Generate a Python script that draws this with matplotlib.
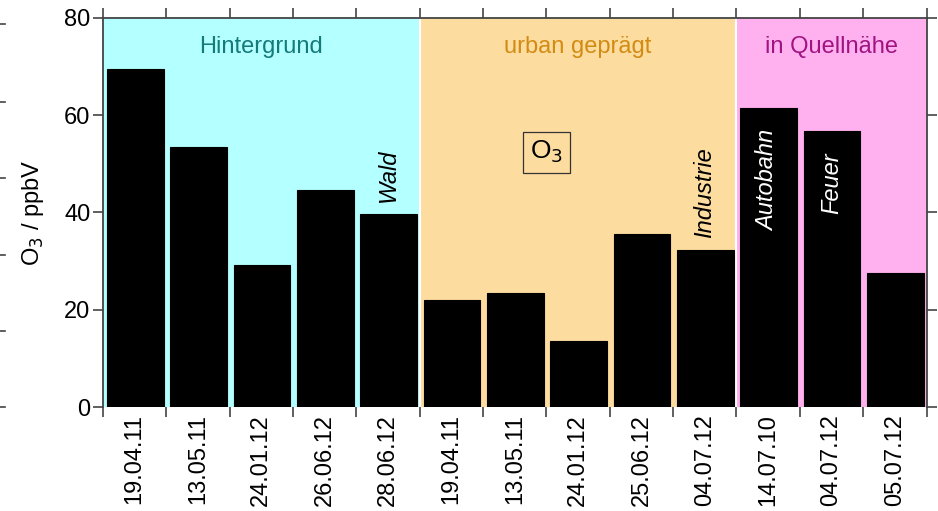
import matplotlib
matplotlib.use("Agg")
import matplotlib.pyplot as plt
from matplotlib.lines import Line2D

plt.rcParams['font.family'] = ['Liberation Sans', 'DejaVu Sans']

# Sampling dates and measured ozone mixing ratios
dates = ["19.04.11", "13.05.11", "24.01.12", "26.06.12", "28.06.12",
         "19.04.11", "13.05.11", "24.01.12", "25.06.12", "04.07.12",
         "14.07.10", "04.07.12", "05.07.12"]
o3_ppbv = [69.5, 53.5, 29.3, 44.6, 39.7,
           22.0, 23.4, 13.6, 35.6, 32.3,
           61.4, 56.8, 27.5]

# Site groups: (label, first index, last index, fill, text colour)
groups = [
    ("Hintergrund", 0, 4, "#b4ffff", "#157a7a"),
    ("urban geprägt", 5, 9, "#fddc9f", "#d28c14"),
    ("in Quellnähe", 10, 12, "#ffb0ee", "#a01482"),
]

# Site notes written next to / inside individual bars
notes = [(4, "Wald", "black", "above"),
         (9, "Industrie", "black", "above"),
         (10, "Autobahn", "white", "inside"),
         (11, "Feuer", "white", "inside")]

W, H = 938, 511
fig = plt.figure(figsize=(W / 100, H / 100), dpi=100)
ax = fig.add_axes([103 / W, 1 - 407 / H, (926.5 - 103) / W, (407 - 18) / H])

n = len(dates)
x = list(range(n))
ax.set_xlim(-0.5, n - 0.5)
ax.set_ylim(0, 80)

# coloured group backgrounds with thin white separators
for label, i0, i1, fill, tcol in groups:
    ax.axvspan(i0 - 0.5, i1 + 0.5, color=fill, zorder=0, lw=0)
    ax.text((i0 + i1) / 2, 74.0, label, ha="center", va="center",
            fontsize=17, color=tcol, zorder=3)
for _, i0, _, _, _ in groups[1:]:
    ax.axvline(i0 - 0.5, color="white", lw=1.5, zorder=1)

ax.bar([xi + 0.01 for xi in x], o3_ppbv, width=0.895, color="black",
       edgecolor="black", linewidth=0.8, zorder=2)

for i, txt, col, where in notes:
    if where == "above":
        y0 = o3_ppbv[i] + 2.4
        va = "bottom"
    else:
        y0 = o3_ppbv[i] - 4.4
        va = "top"
    ax.text(i, y0, txt, rotation=90, ha="center", va=va, fontsize=17,
            style="italic", color=col, zorder=3)

ax.text(6.5, 52.4, "O$_3$", ha="center", va="center", fontsize=19,
        zorder=3, bbox=dict(boxstyle="square,pad=0.28", fc="none",
                            ec="#333333", lw=0.9))

spine_col = "#444444"
for side in ("left", "right", "top"):
    ax.spines[side].set_color(spine_col)
    ax.spines[side].set_linewidth(1.3)
ax.spines["bottom"].set_visible(False)

ax.set_yticks([0, 20, 40, 60, 80])
ax.tick_params(axis="y", direction="out", length=7, width=1.2,
               color=spine_col, labelsize=17, right=True, pad=2)

# ticks at category boundaries, labels at category centres
ax.set_xticks([i - 0.5 for i in range(n + 1)])
ax.set_xticklabels([])
ax.set_xticks(x, minor=True)
ax.set_xticklabels(dates, minor=True, rotation=90, fontsize=17)
ax.tick_params(axis="x", which="major", direction="out", length=7,
               width=1.2, color=spine_col, top=True)
ax.tick_params(axis="x", which="minor", length=0, pad=5)

ax.set_ylabel("O$_3$ / ppbV", fontsize=17, labelpad=13)

# tick marks of the neighbouring panel along the left margin
for yp in [24, 102, 178, 255, 331, 407]:
    fig.add_artist(Line2D([0, 5 / W], [1 - yp / H, 1 - yp / H],
                          color=spine_col, lw=1.2,
                          transform=fig.transFigure))

fig.savefig("out.png", dpi=100)
